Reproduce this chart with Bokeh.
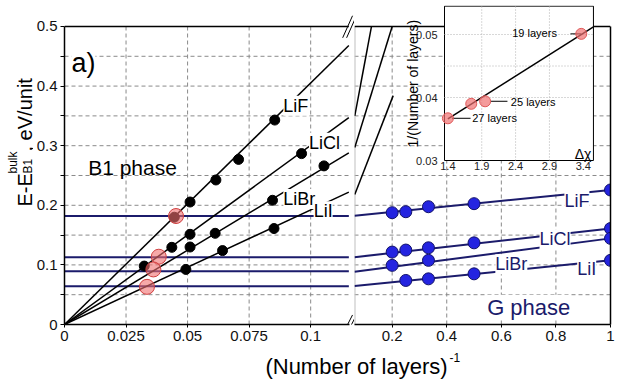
import math
from bokeh.plotting import figure
from bokeh.layouts import row, column
from bokeh.models import Range1d, LinearAxis, FixedTicker, Label
from bokeh.embed import file_html
from bokeh.resources import INLINE
from bokeh.core.properties import value

FONT = "Liberation Sans"
NAVY = "#1b1b6b"
BLUE = "#2424e0"
GRID = "#8a8a8a"

# ---------------- data ----------------
# B1 phase energies (left panel), x = 1/(number of layers)
b1_lif_x = [0.0446, 0.0510, 0.0615, 0.0707, 0.0854]
b1_lif_y = [0.180, 0.2055, 0.2425, 0.277, 0.343]
b1_licl_x = [0.0324, 0.0436, 0.0510, 0.0963]
b1_licl_y = [0.098, 0.1295, 0.1513, 0.2867]
b1_libr_x = [0.0510, 0.0612, 0.0845, 0.1054]
b1_libr_y = [0.130, 0.153, 0.2084, 0.2661]
b1_lii_x = [0.0493, 0.0642, 0.0851]
b1_lii_y = [0.0924, 0.124, 0.161]

# B1 fit lines through origin (left panel): end values at the break
b1_fit_x = [0.0, 0.1155]
b1_fit_lif_y = [0.0, 0.468]
b1_fit_licl_y = [0.0, 0.347]
b1_fit_libr_y = [0.0, 0.288]
b1_fit_lii_y = [0.0, 0.222]

# B1 fit continuation in right panel (LiCl, LiBr, LiI)
b1_cont_x0 = [0.063, 0.063, 0.063]
b1_cont_y0 = [0.350, 0.297, 0.218]
b1_cont_x1 = [0.1243, 0.200, 0.2038]
b1_cont_y1 = [0.500, 0.500, 0.384]

# crossing points B1 / G (red)
cross_x = [0.0453, 0.0383, 0.0361, 0.0335]
cross_y = [0.182, 0.1137, 0.0924, 0.0632]

# G phase lines
g_left_x = [0.0, 0.1155]
g_left_lif_y = [0.182, 0.182]
g_left_licl_y = [0.113, 0.113]
g_left_libr_y = [0.0893, 0.0893]
g_left_lii_y = [0.0643, 0.0643]
g_right_x = [0.062, 1.0]
g_right_lif_y = [0.1825, 0.2257]
g_right_licl_y = [0.113, 0.161]
g_right_libr_y = [0.0884, 0.1445]
g_right_lii_y = [0.0644, 0.1076]

# G phase points
g_lif_x = [0.2, 0.25, 0.333, 0.5, 1.0]
g_lif_y = [0.1876, 0.1892, 0.1976, 0.2027, 0.2257]
g_licl_x = [0.2, 0.25, 0.333, 0.5, 1.0]
g_licl_y = [0.1215, 0.1249, 0.1287, 0.137, 0.161]
g_libr_x = [0.2, 0.333, 1.0]
g_libr_y = [0.0992, 0.1076, 0.1445]
g_lii_x = [0.25, 0.333, 0.5, 1.0]
g_lii_y = [0.0739, 0.0766, 0.085, 0.1076]

# inset
inset_dx = [1.4, 1.745, 1.95, 3.37]
inset_inv_n = [0.0367, 0.0390, 0.0394, 0.0501]
inset_fit_x = [1.4, 3.55]
inset_fit_y = [0.0366, 0.0512]
inset_lab_text = ["27 layers", "25 layers", "19 layers"]
inset_lab_x = [1.76, 2.33, 3.01]
inset_lab_y = [0.0368, 0.03925, 0.0502]
inset_lab_align = ["left", "left", "right"]
inset_lead_x0 = [1.46, 2.03, 3.21]
inset_lead_x1 = [1.735, 2.28, 3.37]
inset_xticks = [1.4, 1.9, 2.4, 2.9, 3.4]
inset_xlabels = ["1.4", "1.9", "2.4", "2.9", "3.4"]
inset_yticks = [0.03, 0.04, 0.05]
inset_ylabels = ["0.03", "0.04", "0.05"]
inset_xgrid = [1.9, 2.4, 2.9]
inset_ygrid = [0.04, 0.045, 0.05]
inset_xlim = [1.35, 3.55]
inset_ylim = [0.03, 0.0545]

# axes ticks / grid
y_ticks = [0, 0.1, 0.2, 0.3, 0.4, 0.5]
y_labels = ["0", "0.1", "0.2", "0.3", "0.4", "0.5"]
y_minor = [0.05, 0.15, 0.25, 0.35, 0.45]
y_grid = [0.05, 0.1, 0.15, 0.2, 0.25, 0.3, 0.35, 0.4, 0.45]
lx_ticks = [0, 0.025, 0.05, 0.075, 0.1]
lx_labels = ["0", "0.025", "0.05", "0.075", "0.1"]
lx_grid = [0.025, 0.05, 0.075, 0.1]
rx_ticks = [0.2, 0.4, 0.6, 0.8, 1.0]
rx_labels = ["0.2", "0.4", "0.6", "0.8", "1"]
rx_grid = [0.2, 0.4, 0.6, 0.8]

# axis-break marks (left panel data coords)
brk_x0 = [0.1130, 0.1146, 0.1130, 0.1146]
brk_y0 = [0.481, 0.481, -0.016, -0.016]
brk_x1 = [0.1170, 0.1186, 0.1170, 0.1186]
brk_y1 = [0.518, 0.518, 0.016, 0.016]

LEFT_XR = (0.0, 0.1178)
LEFT_END = 0.1159
RIGHT_XR = (0.062, 1.0)
Y_TOP = 0.5
Y_VIEW = 0.5352

ROW_H = 348
BOT = 24

# ---------------- helpers ----------------
def grid_segments(p, xs_v, ys_h, x_lo, x_hi):
    n, m = len(xs_v), len(ys_h)
    p.segment(x0=xs_v, y0=[0] * n, x1=xs_v, y1=[Y_TOP] * n,
              line_color=GRID, line_dash="4 3", line_width=1)
    p.segment(x0=[x_lo] * m, y0=ys_h, x1=[x_hi] * m, y1=ys_h,
              line_color=GRID, line_dash="4 3", line_width=1)

def style_xaxis(ax, ticks, labels):
    ax.ticker = FixedTicker(ticks=ticks)
    ax.major_label_overrides = dict(zip(ticks, labels))
    ax.axis_line_width = 1.5
    ax.axis_line_color = "black"
    ax.major_tick_out = 3
    ax.major_tick_in = 0
    ax.minor_tick_out = 0
    ax.minor_tick_in = 0
    ax.minor_tick_line_color = None
    ax.major_label_standoff = 3
    ax.major_label_text_font = FONT
    ax.major_label_text_font_size = "15px"
    ax.major_label_text_color = "#111111"

def lab(p, x, y, text, size, color="black", bg=None, align="left", baseline="alphabetic", **kw):
    l = Label(x=x, y=y, text=text, text_font=FONT, text_font_size=size, text_color=color,
              text_align=align, text_baseline=baseline, **kw)
    if bg:
        l.background_fill_color = bg
    p.add_layout(l)
    return l

SCR = dict(x_units="screen", y_units="screen")

# ---------------- y-axis title strip ----------------
YT_W = 33
yt = figure(width=YT_W, height=ROW_H, x_range=Range1d(0, 1), y_range=Range1d(0, 1),
            output_backend="svg", toolbar_location=None, title=None, min_border=0,
            x_axis_location=None, y_axis_location=None, outline_line_color=None)
yt.grid.visible = False
ang = math.pi / 2
lab(yt, 24, 118, "E-E", "20px", angle=ang, **SCR)
lab(yt, 12, 151, "bulk", "12px", angle=ang, **SCR)
lab(yt, 27, 151, "B1", "12px", angle=ang, **SCR)
lab(yt, 24, 173, ", eV/unit", "20px", angle=ang, **SCR)

# ---------------- left panel ----------------
lf = figure(width=354 - YT_W, height=ROW_H, x_range=Range1d(*LEFT_XR), y_range=Range1d(0, Y_VIEW),
            output_backend="svg", toolbar_location=None, title=None,
            min_border_left=63 - YT_W, min_border_right=0, min_border_top=5, min_border_bottom=BOT,
            outline_line_color=None)
lf.grid.visible = False
style_xaxis(lf.xaxis[0], lx_ticks, lx_labels)
lf.xaxis[0].bounds = (0, LEFT_END)
ya = lf.yaxis[0]
ya.ticker = FixedTicker(ticks=y_ticks, minor_ticks=y_minor)
ya.major_label_overrides = dict(zip(y_ticks, y_labels))
ya.bounds = (0, Y_TOP)
ya.axis_line_width = 1.5
ya.major_tick_out = 4
ya.major_tick_in = 0
ya.minor_tick_out = 4
ya.minor_tick_in = 0
ya.minor_tick_line_color = "black"
ya.major_label_standoff = 3
ya.major_label_text_font = FONT
ya.major_label_text_font_size = "15px"
ya.major_label_text_color = "#111111"

grid_segments(lf, lx_grid, y_grid, 0, LEFT_END)
# top frame line of left panel and break marks
lf.segment(x0=[0], y0=[Y_TOP], x1=[LEFT_END - 0.0004], y1=[Y_TOP], line_color="black", line_width=1.5)
lf.segment(x0=brk_x0, y0=brk_y0, x1=brk_x1, y1=brk_y1, line_color="black", line_width=1)

for gy in [g_left_lif_y, g_left_licl_y, g_left_libr_y, g_left_lii_y]:
    lf.line(g_left_x, gy, line_color=NAVY, line_width=2)
for fy in [b1_fit_lif_y, b1_fit_licl_y, b1_fit_libr_y, b1_fit_lii_y]:
    lf.line(b1_fit_x, fy, line_color="black", line_width=1.5)
for xs, ys in [(b1_lif_x, b1_lif_y), (b1_licl_x, b1_licl_y), (b1_libr_x, b1_libr_y), (b1_lii_x, b1_lii_y)]:
    lf.scatter(xs, ys, size=10, fill_color="black", line_color="black")
lf.scatter(cross_x, cross_y, size=15, fill_color="#f07070", fill_alpha=0.6,
           line_color="#d04040", line_width=1)

lab(lf, 0.0889, 0.367, "LiF", "18px", bg="white")
lab(lf, 0.0993, 0.305, "LiCl", "18px", bg="white")
lab(lf, 0.0889, 0.2106, "LiBr", "18px", bg="white")
lab(lf, 0.1012, 0.190, "LiI", "18px", bg="white")
lab(lf, 0.0028, 0.439, "a)", "27px", bg="white")
lab(lf, 0.0096, 0.263, "B1 phase", "21px")

# ---------------- right panel ----------------
rf = figure(width=280, height=ROW_H, x_range=Range1d(*RIGHT_XR), y_range=Range1d(0, Y_VIEW),
            output_backend="svg", toolbar_location=None, title=None, y_axis_location=None,
            min_border_left=0, min_border_right=24, min_border_top=5, min_border_bottom=BOT,
            outline_line_color=None)
rf.grid.visible = False
style_xaxis(rf.xaxis[0], rx_ticks, rx_labels)
right_ax = LinearAxis(ticker=FixedTicker(ticks=[]), axis_line_width=1.5, major_tick_out=0,
                      major_tick_in=0, minor_tick_out=0, minor_tick_in=0,
                      major_label_text_font_size="0px", bounds=(0, Y_TOP))
rf.add_layout(right_ax, "right")

grid_segments(rf, rx_grid, y_grid, RIGHT_XR[0], RIGHT_XR[1])
rf.segment(x0=[RIGHT_XR[0]], y0=[0], x1=[RIGHT_XR[0]], y1=[Y_TOP], line_color="#c0c0c0", line_width=2)
rf.segment(x0=[RIGHT_XR[0]], y0=[Y_TOP], x1=[RIGHT_XR[1]], y1=[Y_TOP], line_color="black", line_width=1.5)

rf.segment(x0=b1_cont_x0, y0=b1_cont_y0, x1=b1_cont_x1, y1=b1_cont_y1, line_color="black", line_width=1.5)
for gy in [g_right_lif_y, g_right_licl_y, g_right_libr_y, g_right_lii_y]:
    rf.line(g_right_x, gy, line_color=NAVY, line_width=2)
for xs, ys in [(g_lif_x, g_lif_y), (g_licl_x, g_licl_y), (g_libr_x, g_libr_y), (g_lii_x, g_lii_y)]:
    rf.scatter(xs, ys, size=12, fill_color=BLUE, line_color="#12126a", line_width=1)

lab(rf, 0.831, 0.207, "LiF", "18px", color=NAVY, bg="white")
lab(rf, 0.740, 0.143, "LiCl", "18px", color=NAVY, bg="white")
lab(rf, 0.578, 0.101, "LiBr", "18px", color=NAVY, bg="white")
lab(rf, 0.878, 0.093, "LiI", "18px", color=NAVY, bg="white")
lab(rf, 0.548, 0.029, "G phase", "22px", color=NAVY, bg="white")

# ---------------- inset (extra ranges inside right panel) ----------------
FR_W, FR_H = 256, 319             # right frame size in px
BOX_L, BOX_B = 90, 164            # inset box lower-left corner in frame px
IXS, IYS = 67.7, 6300.0           # inset px per unit
ix0 = inset_xlim[0] - BOX_L / IXS
iy0 = inset_ylim[0] - BOX_B / IYS
rf.extra_x_ranges = {"ix": Range1d(ix0, ix0 + FR_W / IXS)}
rf.extra_y_ranges = {"iy": Range1d(iy0, iy0 + FR_H / IYS)}
IK = dict(x_range_name="ix", y_range_name="iy")

rf.quad(left=[inset_xlim[0]], right=[inset_xlim[1]], bottom=[inset_ylim[0]], top=[inset_ylim[1]],
        fill_color="white", line_color="black", line_width=1, **IK)
rf.segment(x0=inset_xgrid, y0=[inset_ylim[0]] * 3, x1=inset_xgrid, y1=[inset_ylim[1]] * 3,
           line_color="#b0b0b0", line_dash="1 2", **IK)
rf.segment(x0=[inset_xlim[0]] * 3, y0=inset_ygrid, x1=[inset_xlim[1]] * 3, y1=inset_ygrid,
           line_color="#b0b0b0", line_dash="1 2", **IK)
rf.line(inset_fit_x, inset_fit_y, line_color="black", line_width=1.5, **IK)
rf.segment(x0=inset_lead_x0, y0=[inset_inv_n[0], inset_inv_n[2], inset_inv_n[3]],
           x1=inset_lead_x1, y1=[inset_inv_n[0], inset_inv_n[2], inset_inv_n[3]],
           line_color="black", line_width=1, **IK)
rf.scatter(inset_dx, inset_inv_n, size=11, fill_color="#f07070", fill_alpha=0.7,
           line_color="#e05a5a", **IK)
rf.text(x=inset_lab_x, y=inset_lab_y, text=inset_lab_text, text_align=inset_lab_align,
        text_baseline="middle", text_font=value(FONT), text_font_size="11px", **IK)
rf.text(x=inset_xticks, y=[0.0297] * 5, text=inset_xlabels, text_align="center",
        text_baseline="top", text_font=value(FONT), text_font_size="11px", text_color="#222222", **IK)
rf.text(x=[1.247] * 3, y=inset_yticks, text=inset_ylabels, text_align="right",
        text_baseline="middle", text_font=value(FONT), text_font_size="11px", text_color="#222222", **IK)
lab(rf, 0.892, 0.0422, "1/(Number of layers)", "14px", align="center", angle=math.pi / 2, **IK)
lab(rf, 3.52, 0.0311, "\u0394\u03c7", "14px", align="right", **IK)

# ---------------- x-axis title ----------------
tf = figure(width=634, height=385 - ROW_H, x_range=Range1d(0, 1), y_range=Range1d(0, 1),
            output_backend="svg", toolbar_location=None, title=None, min_border=0,
            x_axis_location=None, y_axis_location=None, outline_line_color=None)
tf.grid.visible = False
lab(tf, 356, 19, "(Number of layers)", "22px", align="center", **SCR)
lab(tf, 449, 28, "-1", "12px", **SCR)

layout = column(row(yt, lf, rf), tf)
open("out.html", "w").write(file_html(layout, INLINE))
